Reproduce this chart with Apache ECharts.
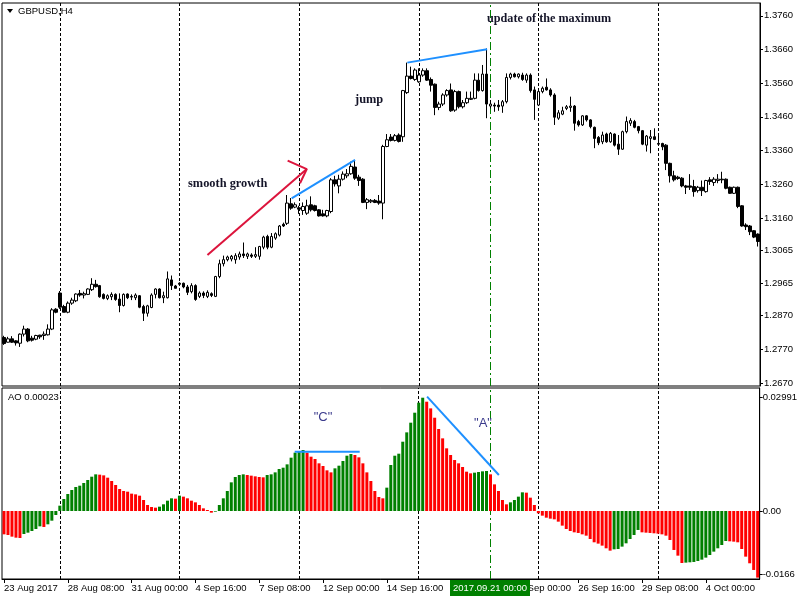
<!DOCTYPE html>
<html>
<head>
<meta charset="utf-8">
<script src="https://cdn.jsdelivr.net/npm/echarts@6/dist/echarts.min.js"></script>
<style>html,body{margin:0;padding:0;background:#fff}#c{width:800px;height:600px}</style>
</head>
<body>
<div id="c"></div>
<script>
// ---- data ----
// H4 candles: [open, close, low, high]
const candles = [
[1.2805,1.2787,1.2783,1.2810],[1.2791,1.2801,1.2790,1.2807],[1.2801,1.2791,1.2789,1.2809],[1.2795,1.2789,1.2781,1.2797],
[1.2788,1.2815,1.2777,1.2817],[1.2815,1.2830,1.2808,1.2840],[1.2830,1.2795,1.2791,1.2833],[1.2803,1.2797,1.2793,1.2810],
[1.2800,1.2811,1.2797,1.2813],[1.2812,1.2807,1.2801,1.2813],[1.2811,1.2815,1.2798,1.2823],[1.2813,1.2830,1.2811,1.2844],
[1.2830,1.2887,1.2827,1.2892],[1.2889,1.2880,1.2877,1.2892],[1.2937,1.2895,1.2890,1.2943],[1.2897,1.2880,1.2880,1.2902],
[1.2880,1.2907,1.2877,1.2912],[1.2907,1.2916,1.2902,1.2923],[1.2914,1.2934,1.2910,1.2936],[1.2936,1.2931,1.2926,1.2946],
[1.2931,1.2935,1.2921,1.2941],[1.2933,1.2949,1.2931,1.2951],[1.2947,1.2963,1.2943,1.2981],[1.2963,1.2956,1.2953,1.2976],
[1.2959,1.2926,1.2923,1.2961],[1.2933,1.2921,1.2918,1.2936],[1.2921,1.2929,1.2916,1.2933],[1.2926,1.2933,1.2916,1.2939],
[1.2933,1.2918,1.2914,1.2936],[1.2919,1.2900,1.2880,1.2936],[1.2900,1.2933,1.2897,1.2936],[1.2934,1.2923,1.2919,1.2936],
[1.2927,1.2925,1.2916,1.2933],[1.2923,1.2931,1.2916,1.2936],[1.2929,1.2895,1.2892,1.2931],[1.2897,1.2877,1.2854,1.2902],
[1.2877,1.2899,1.2867,1.2902],[1.2894,1.2931,1.2892,1.2936],[1.2933,1.2949,1.2921,1.2951],[1.2949,1.2923,1.2921,1.2951],
[1.2923,1.2929,1.2907,1.2941],[1.2923,1.2979,1.2921,1.3001],[1.2976,1.2959,1.2946,1.2989],[1.2958,1.2951,1.2951,1.2961],
[1.2966,1.2963,1.2959,1.2969],[1.2966,1.2955,1.2951,1.2968],[1.2955,1.2939,1.2931,1.2961],[1.2941,1.2959,1.2936,1.2966],
[1.2959,1.2918,1.2914,1.2963],[1.2927,1.2937,1.2922,1.2942],[1.2937,1.2930,1.2922,1.2942],[1.2927,1.2939,1.2922,1.2945],
[1.2935,1.2930,1.2925,1.2939],[1.2927,1.2986,1.2925,1.2988],[1.2986,1.3024,1.2981,1.3036],[1.3024,1.3036,1.3016,1.3048],
[1.3036,1.3044,1.3031,1.3048],[1.3038,1.3046,1.3031,1.3050],[1.3036,1.3048,1.3024,1.3055],[1.3044,1.3053,1.3036,1.3060],
[1.3053,1.3048,1.3041,1.3087],[1.3046,1.3053,1.3038,1.3057],[1.3050,1.3046,1.3041,1.3055],[1.3046,1.3051,1.3041,1.3073],
[1.3046,1.3075,1.3036,1.3077],[1.3073,1.3103,1.3067,1.3107],[1.3105,1.3073,1.3067,1.3110],[1.3073,1.3105,1.3070,1.3115],
[1.3100,1.3113,1.3095,1.3117],[1.3109,1.3136,1.3105,1.3139],[1.3141,1.3136,1.3133,1.3146],[1.3144,1.3204,1.3139,1.3228],
[1.3202,1.3189,1.3184,1.3219],[1.3192,1.3199,1.3189,1.3206],[1.3190,1.3186,1.3172,1.3196],[1.3182,1.3194,1.3169,1.3206],
[1.3174,1.3196,1.3169,1.3214],[1.3199,1.3184,1.3179,1.3224],[1.3196,1.3182,1.3179,1.3199],[1.3184,1.3166,1.3164,1.3186],
[1.3172,1.3166,1.3164,1.3184],[1.3166,1.3182,1.3162,1.3184],[1.3179,1.3273,1.3174,1.3278],[1.3273,1.3261,1.3253,1.3285],
[1.3255,1.3275,1.3233,1.3288],[1.3275,1.3290,1.3271,1.3298],[1.3285,1.3291,1.3278,1.3305],[1.3291,1.3313,1.3288,1.3327],
[1.3311,1.3278,1.3273,1.3332],[1.3281,1.3271,1.3255,1.3288],[1.3275,1.3206,1.3204,1.3278],[1.3206,1.3214,1.3186,1.3219],
[1.3208,1.3212,1.3204,1.3216],[1.3212,1.3206,1.3204,1.3216],[1.3210,1.3204,1.3199,1.3228],[1.3204,1.3372,1.3156,1.3377],
[1.3372,1.3392,1.3370,1.3409],[1.3400,1.3390,1.3387,1.3409],[1.3390,1.3404,1.3387,1.3409],[1.3406,1.3387,1.3384,1.3411],
[1.3401,1.3538,1.3386,1.3540],[1.3532,1.3581,1.3528,1.3621],[1.3581,1.3574,1.3571,1.3609],[1.3571,1.3599,1.3567,1.3604],
[1.3564,1.3584,1.3561,1.3604],[1.3584,1.3597,1.3579,1.3604],[1.3597,1.3569,1.3567,1.3604],[1.3571,1.3554,1.3535,1.3577],
[1.3557,1.3488,1.3465,1.3559],[1.3488,1.3498,1.3480,1.3505],[1.3498,1.3525,1.3492,1.3530],[1.3525,1.3538,1.3520,1.3542],
[1.3540,1.3478,1.3475,1.3559],[1.3480,1.3535,1.3475,1.3540],[1.3535,1.3490,1.3485,1.3538],[1.3490,1.3502,1.3485,1.3510],
[1.3502,1.3515,1.3498,1.3535],[1.3512,1.3515,1.3510,1.3535],[1.3515,1.3569,1.3512,1.3589],[1.3569,1.3538,1.3535,1.3589],
[1.3538,1.3587,1.3535,1.3614],[1.3587,1.3498,1.3456,1.3663],[1.3492,1.3498,1.3485,1.3510],[1.3495,1.3492,1.3475,1.3502],
[1.3495,1.3490,1.3478,1.3510],[1.3492,1.3505,1.3472,1.3510],[1.3505,1.3577,1.3500,1.3589],[1.3577,1.3587,1.3571,1.3591],
[1.3587,1.3579,1.3577,1.3591],[1.3579,1.3587,1.3574,1.3589],[1.3584,1.3571,1.3567,1.3591],[1.3569,1.3584,1.3561,1.3589],
[1.3584,1.3538,1.3532,1.3589],[1.3540,1.3512,1.3451,1.3550],[1.3495,1.3535,1.3492,1.3540],[1.3535,1.3545,1.3530,1.3550],
[1.3548,1.3540,1.3538,1.3574],[1.3540,1.3525,1.3520,1.3545],[1.3525,1.3459,1.3436,1.3530],[1.3456,1.3472,1.3451,1.3480],
[1.3468,1.3478,1.3465,1.3490],[1.3485,1.3490,1.3480,1.3495],[1.3488,1.3492,1.3475,1.3520],[1.3492,1.3441,1.3419,1.3495],
[1.3446,1.3436,1.3431,1.3451],[1.3436,1.3463,1.3433,1.3465],[1.3463,1.3451,1.3446,1.3465],[1.3451,1.3431,1.3426,1.3453],
[1.3429,1.3396,1.3367,1.3431],[1.3399,1.3383,1.3376,1.3403],[1.3386,1.3406,1.3379,1.3416],[1.3409,1.3386,1.3383,1.3413],
[1.3386,1.3411,1.3383,1.3415],[1.3409,1.3376,1.3372,1.3411],[1.3379,1.3364,1.3347,1.3406],[1.3364,1.3416,1.3362,1.3419],
[1.3416,1.3446,1.3411,1.3461],[1.3441,1.3449,1.3433,1.3456],[1.3446,1.3429,1.3426,1.3451],[1.3431,1.3419,1.3411,1.3433],
[1.3419,1.3379,1.3376,1.3421],[1.3376,1.3403,1.3357,1.3406],[1.3396,1.3401,1.3352,1.3421],[1.3401,1.3393,1.3391,1.3426],
[1.3381,1.3379,1.3376,1.3411],[1.3381,1.3371,1.3361,1.3383],[1.3376,1.3322,1.3302,1.3379],[1.3322,1.3285,1.3265,1.3324],
[1.3285,1.3273,1.3268,1.3300],[1.3281,1.3277,1.3273,1.3285],[1.3278,1.3255,1.3251,1.3281],[1.3255,1.3251,1.3231,1.3258],
[1.3255,1.3251,1.3243,1.3290],[1.3253,1.3238,1.3223,1.3273],[1.3241,1.3251,1.3235,1.3255],[1.3251,1.3241,1.3225,1.3271],
[1.3238,1.3271,1.3235,1.3273],[1.3273,1.3268,1.3258,1.3281],[1.3265,1.3275,1.3255,1.3281],[1.3271,1.3275,1.3263,1.3290],
[1.3275,1.3273,1.3263,1.3297],[1.3275,1.3248,1.3245,1.3277],[1.3251,1.3233,1.3231,1.3253],[1.3233,1.3251,1.3231,1.3253],
[1.3251,1.3194,1.3189,1.3253],[1.3196,1.3136,1.3134,1.3198],[1.3139,1.3134,1.3124,1.3144],[1.3136,1.3119,1.3109,1.3139],
[1.3122,1.3103,1.3100,1.3124],[1.3112,1.3090,1.3075,1.3114]
];

// Awesome Oscillator values, one per candle
const aoValues = [
-0.00615,-0.00632,-0.00676,-0.00703,-0.00712,-0.00606,-0.00571,-0.00527,-0.00474,-0.00404,
-0.00421,-0.00351,-0.00255,-0.00105,0.00140,0.00316,0.00448,0.00553,0.00632,0.00667,
0.00738,0.00817,0.00904,0.00966,0.00957,0.00939,0.00878,0.00790,0.00685,0.00579,
0.00527,0.00509,0.00457,0.00439,0.00404,0.00290,0.00158,0.00105,0.00088,0.00114,
0.00176,0.00272,0.00334,0.00325,0.00404,0.00378,0.00334,0.00272,0.00228,0.00158,
0.00070,0.00026,-0.00044,-0.00018,0.00158,0.00334,0.00527,0.00755,0.00896,0.00948,
0.00966,0.00948,0.00931,0.00913,0.00896,0.00887,0.00948,0.00966,0.01018,0.01106,
0.01141,0.01229,0.01405,0.01537,0.01580,0.01607,0.01537,0.01431,0.01370,0.01256,
0.01185,0.01071,0.01018,0.01124,0.01194,0.01317,0.01457,0.01501,0.01475,0.01414,
0.01256,0.01018,0.00790,0.00527,0.00369,0.00334,0.00615,0.01212,0.01457,0.01510,
0.01826,0.02072,0.02327,0.02590,0.02854,0.02985,0.02880,0.02704,0.02458,0.02160,
0.01914,0.01651,0.01475,0.01343,0.01256,0.01159,0.01036,0.00992,0.01010,0.01027,
0.01045,0.01054,0.00966,0.00702,0.00527,0.00290,0.00176,0.00228,0.00290,0.00378,
0.00492,0.00483,0.00351,0.00158,-0.00061,-0.00123,-0.00176,-0.00202,-0.00220,-0.00281,
-0.00386,-0.00474,-0.00527,-0.00562,-0.00579,-0.00615,-0.00650,-0.00738,-0.00825,-0.00860,
-0.00913,-0.00983,-0.01045,-0.01010,-0.01001,-0.00939,-0.00852,-0.00738,-0.00632,-0.00500,
-0.00562,-0.00571,-0.00579,-0.00588,-0.00597,-0.00615,-0.00650,-0.00764,-0.01027,-0.01177,
-0.01370,-0.01361,-0.01352,-0.01343,-0.01317,-0.01282,-0.01229,-0.01159,-0.01071,-0.00983,
-0.00896,-0.00790,-0.00799,-0.00808,-0.00825,-0.01001,-0.01203,-0.01378,-0.01554,-0.01756
];

const priceTicks = [1.2670,1.2770,1.2870,1.2965,1.3065,1.3160,1.3260,1.3360,1.3460,1.3560,1.3660,1.3760];
const aoTicks = [-0.0166, 0, 0.02991];
const aoTickLabels = ['-0.0166', '0.00', '0.02991'];
const xTickLabels = ['23 Aug 2017','28 Aug 08:00','31 Aug 00:00','4 Sep 16:00','7 Sep 08:00','12 Sep 00:00',
                     '14 Sep 16:00','19 Sep 08:00','22 Sep 00:00','26 Sep 16:00','29 Sep 08:00','4 Oct 00:00'];
const weekSeparators = [14, 44, 74, 104, 134, 164];
const crosshairBar = 122;

// drawn trend lines: [barIndex, value]
const blueLine1 = [[72.1, 1.3218], [88.0, 1.3332]];
const blueLine2 = [[101.1, 1.3621], [121.1, 1.3661]];
const redArrowShaft = [[51.0, 1.3050], [75.9, 1.3305]];
const redArrowHead = [[71.1, 1.3330], [75.9, 1.3305], [74.2, 1.3263]];
const aoLineC = [[72.9, 0.01563], [89.2, 0.01563]];
const aoLineA = [[106.1, 0.03012], [124.1, 0.00949]];

// ---- categories: H4 bar times (weekdays only) ----
const barTimes = [];
(function(){
  let t = Date.UTC(2017, 7, 23, 16);
  const pad = n => (n < 10 ? '0' : '') + n;
  while (barTimes.length < candles.length) {
    const d = new Date(t);
    const wd = d.getUTCDay();
    if (wd !== 0 && wd !== 6) {
      barTimes.push(d.getUTCFullYear() + '.' + pad(d.getUTCMonth()+1) + '.' + pad(d.getUTCDate()) + ' ' + pad(d.getUTCHours()) + ':00');
    }
    t += 4 * 3600 * 1000;
  }
})();

const GREEN = '#008000', RED = '#ff0000';
const aoData = aoValues.map((v, i) => ({
  value: v,
  itemStyle: { color: (i > 0 && v > aoValues[i-1]) ? GREEN : RED }
}));

const FONT = 'Liberation Sans';
const sepLines = weekSeparators.map(x => ({ xAxis: x, lineStyle: { type: [3, 2], color: '#000', width: 1 } }));
const greenLine = { xAxis: crosshairBar, lineStyle: { type: [8, 3, 2, 3], color: GREEN, width: 1 } };

function trend(data, xIdx, yIdx, color) {
  return {
    type: 'line', xAxisIndex: xIdx, yAxisIndex: yIdx, data: data,
    showSymbol: false, symbol: 'none', silent: true, z: 5,
    lineStyle: { color: color, width: 2 }
  };
}

const chart = echarts.init(document.getElementById('c'), null, { renderer: 'canvas' });
const option = {
  animation: false,
  backgroundColor: '#ffffff',
  grid: [
    { left: 2, right: 40, top: 3, height: 383, show: true, borderColor: '#000', borderWidth: 1 },
    { left: 2, right: 40, top: 388, height: 191, show: true, borderColor: '#000', borderWidth: 1 }
  ],
  xAxis: [
    { type: 'category', gridIndex: 0, data: barTimes,
      axisLine: { show: false, onZero: false }, axisTick: { show: false }, axisLabel: { show: false }, splitLine: { show: false } },
    { type: 'category', gridIndex: 1, data: barTimes, position: 'bottom',
      axisLine: { show: true, onZero: false, lineStyle: { color: '#000', width: 1 } },
      axisTick: { show: true, interval: 15, alignWithLabel: true, length: 4, lineStyle: { color: '#000' } },
      axisLabel: { interval: 15, align: 'left', margin: 4, fontSize: 9.5, fontFamily: FONT, color: '#000',
        formatter: (v, i) => xTickLabels[Math.round(i / 16)] || '' },
      splitLine: { show: false } },
    { type: 'value', gridIndex: 0, min: -0.5, max: 189.5, show: false, axisLine: { onZero: false } },
    { type: 'value', gridIndex: 1, min: -0.5, max: 189.5, show: false, axisLine: { onZero: false } }
  ],
  yAxis: [
    { type: 'value', gridIndex: 0, position: 'right', min: 1.2661, max: 1.3798,
      splitLine: { show: false },
      axisLine: { show: true, onZero: false, lineStyle: { color: '#000' } },
      axisTick: { show: true, length: 3, lineStyle: { color: '#000' }, customValues: priceTicks },
      axisLabel: { customValues: priceTicks, formatter: v => v.toFixed(4), margin: 4,
        fontSize: 9.5, fontFamily: FONT, color: '#000' } },
    { type: 'value', gridIndex: 1, position: 'right', min: -0.01792, max: 0.03241,
      splitLine: { show: false },
      axisLine: { show: true, onZero: false, lineStyle: { color: '#000' } },
      axisTick: { show: true, length: 3, lineStyle: { color: '#000' }, customValues: aoTicks },
      axisLabel: { customValues: aoTicks, margin: 3, fontSize: 9.5, fontFamily: FONT, color: '#000',
        formatter: v => { const k = aoTicks.findIndex(t => Math.abs(t - v) < 1e-7); return k >= 0 ? aoTickLabels[k] : ''; } } }
  ],
  series: [
    { type: 'candlestick', xAxisIndex: 0, yAxisIndex: 0, data: candles, barWidth: 3, z: 3,
      itemStyle: { color: '#ffffff', color0: '#000000', borderColor: '#000000', borderColor0: '#000000', borderWidth: 1 },
      markLine: { silent: true, symbol: ['none', 'none'], label: { show: false }, animation: false, z: 1,
        data: sepLines.concat([greenLine]) } },
    { type: 'bar', xAxisIndex: 1, yAxisIndex: 1, data: aoData, barWidth: 3, z: 3,
      markLine: { silent: true, symbol: ['none', 'none'], label: { show: false }, animation: false, z: 1,
        data: sepLines.concat([greenLine]) } },
    trend(blueLine1, 2, 0, '#1e90ff'),
    trend(blueLine2, 2, 0, '#1e90ff'),
    trend(redArrowShaft, 2, 0, '#dc143c'),
    trend(redArrowHead, 2, 0, '#dc143c'),
    trend(aoLineC, 3, 1, '#1e90ff'),
    trend(aoLineA, 3, 1, '#1e90ff')
  ],
  graphic: [
    { type: 'polygon', shape: { points: [[7, 9], [13, 9], [10, 13]] }, style: { fill: '#000' }, z: 10 },
    { type: 'text', x: 18, y: 11, style: { text: 'GBPUSD,H4', font: '9.5px ' + FONT, fill: '#000', verticalAlign: 'middle' }, z: 10 },
    { type: 'text', x: 8, y: 397, style: { text: 'AO 0.00023', font: '9.5px ' + FONT, fill: '#000', verticalAlign: 'middle' }, z: 10 },
    { type: 'text', x: 188, y: 184, style: { text: 'smooth growth', font: 'bold 12.4px "Liberation Serif"', fill: '#141428', verticalAlign: 'middle' }, z: 10 },
    { type: 'text', x: 355, y: 100, style: { text: 'jump', font: 'bold 12.4px "Liberation Serif"', fill: '#141428', verticalAlign: 'middle' }, z: 10 },
    { type: 'text', x: 487, y: 19, style: { text: 'update of the maximum', font: 'bold 12.2px "Liberation Serif"', fill: '#141428', verticalAlign: 'middle' }, z: 10 },
    { type: 'text', x: 323, y: 417, style: { text: '"C"', font: '13px ' + FONT, fill: '#3a3a8c', align: 'center', verticalAlign: 'middle' }, z: 10 },
    { type: 'text', x: 483, y: 423, style: { text: '"A"', font: '13px ' + FONT, fill: '#3a3a8c', align: 'center', verticalAlign: 'middle' }, z: 10 }
  ]
};
chart.setOption(option);

// crosshair time label on the time axis (positioned with the axis scale)
const cx = chart.convertToPixel({ xAxisIndex: 1 }, crosshairBar);
chart.setOption({
  graphic: option.graphic.concat([
    { type: 'rect', shape: { x: Math.round(cx) - 40, y: 580, width: 80, height: 16 }, style: { fill: GREEN }, z: 20 },
    { type: 'text', x: Math.round(cx), y: 588, z: 21,
      style: { text: barTimes[crosshairBar], font: '9.5px ' + FONT, fill: '#fff', align: 'center', verticalAlign: 'middle' } }
  ])
});
</script>
</body>
</html>
